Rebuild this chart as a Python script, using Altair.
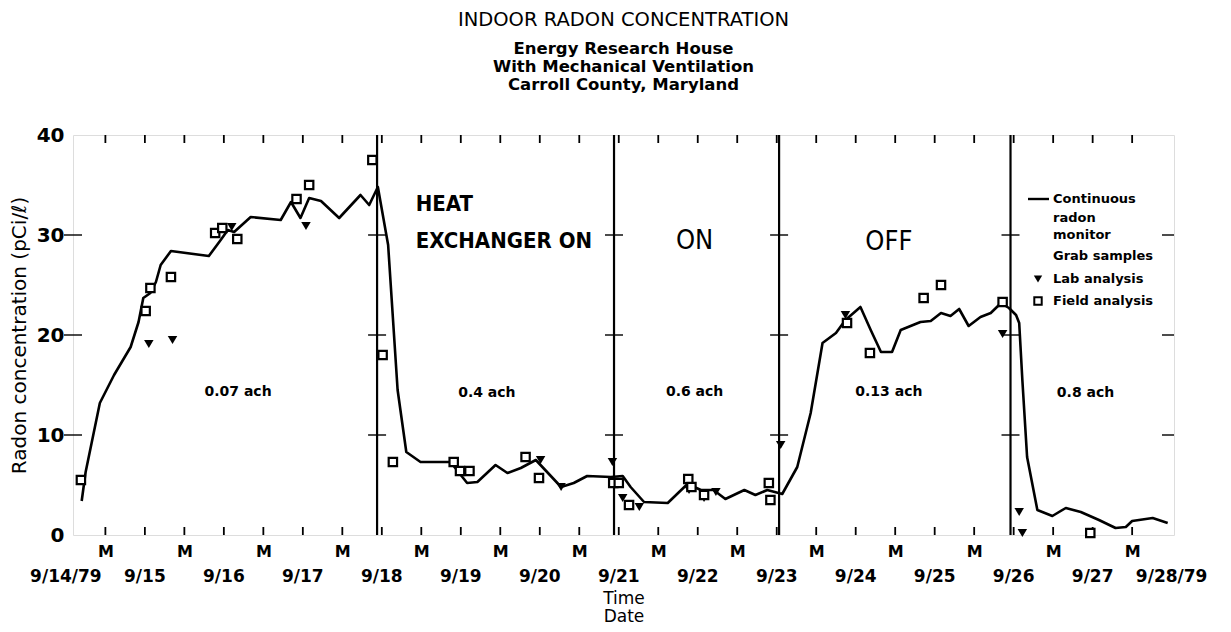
import altair as alt
import pandas as pd

# ---- data (x = days since 9/14/79 00:00, y = radon concentration pCi/L) ----
line_day = [0.20, 0.25, 0.43, 0.61, 0.82, 0.92, 0.98, 1.07, 1.14, 1.20, 1.33, 1.81,
            1.96, 2.05, 2.13, 2.34, 2.72, 2.85, 2.97, 3.08, 3.23, 3.46, 3.73, 3.84,
            3.95, 4.08, 4.20, 4.31, 4.49, 4.87, 5.08, 5.21, 5.44, 5.59, 5.76, 5.95,
            6.27, 6.43, 6.60, 6.90, 7.05, 7.15, 7.32, 7.62, 7.87, 8.04, 8.20, 8.35,
            8.59, 8.73, 8.88, 9.07, 9.26, 9.43, 9.58, 9.75, 9.87, 10.06, 10.19, 10.32,
            10.46, 10.57, 10.82, 10.95, 11.08, 11.20, 11.31, 11.43, 11.58, 11.71, 11.84,
            11.94, 12.03, 12.07, 12.11, 12.17, 12.30, 12.49, 12.66, 12.85, 13.08, 13.29,
            13.42, 13.50, 13.76, 13.95]
line_val = [3.4, 6.3, 13.2, 16.0, 18.8, 21.3, 23.7, 24.2, 25.3, 27.0, 28.4, 27.9,
            29.5, 30.5, 30.3, 31.8, 31.5, 33.3, 31.7, 33.7, 33.4, 31.7, 34.0, 33.0,
            34.8, 29.0, 14.5, 8.3, 7.3, 7.3, 5.2, 5.3, 7.0, 6.2, 6.7, 7.5,
            4.8, 5.2, 5.9, 5.8, 5.9, 4.8, 3.3, 3.2, 5.1, 4.5, 4.5, 3.6,
            4.5, 4.0, 4.5, 4.1, 6.8, 12.2, 19.2, 20.2, 21.5, 22.8, 20.5, 18.3,
            18.3, 20.5, 21.3, 21.4, 22.2, 21.9, 22.6, 20.9, 21.8, 22.2, 23.2,
            22.7, 22.0, 21.2, 15.5, 7.8, 2.5, 1.9, 2.7, 2.3, 1.5, 0.7,
            0.8, 1.4, 1.7, 1.2]

lab_day = [1.05, 1.35, 2.10, 3.04, 6.01, 6.27, 6.92, 7.05, 7.26, 7.89, 8.08, 8.23,
           9.05, 9.87, 11.86, 12.07, 12.11]
lab_val = [19.1, 19.5, 30.8, 30.9, 7.5, 4.8, 7.3, 3.7, 2.8, 4.5, 3.7, 4.3,
           9.0, 22.0, 20.1, 2.3, 0.2]

field_day = [0.19, 1.01, 1.07, 1.33, 1.89, 1.98, 2.17, 2.92, 3.08, 3.88, 4.01, 4.14,
             4.91, 4.99, 5.11, 5.82, 5.99, 6.93, 7.00, 7.13, 7.88, 7.92, 8.08, 8.90,
             8.92, 9.89, 10.18, 10.86, 11.08, 11.86, 12.97]
field_val = [5.5, 22.4, 24.7, 25.8, 30.2, 30.7, 29.6, 33.6, 35.0, 37.5, 18.0, 7.3,
             7.3, 6.4, 6.4, 7.8, 5.7, 5.2, 5.2, 3.0, 5.6, 4.8, 4.0, 5.2,
             3.5, 21.2, 18.2, 23.7, 25.0, 23.3, 0.2]

divider_day = [3.94, 6.94, 9.03, 11.96]
cross_val = [10, 20, 30]

date_day = list(range(15))
date_label = ["9/14/79", "9/15", "9/16", "9/17", "9/18", "9/19", "9/20", "9/21",
              "9/22", "9/23", "9/24", "9/25", "9/26", "9/27", "9/28/79"]
noon_day = [d + 0.5 for d in range(14)]
tick_day = [i / 2 for i in range(1, 28)]

ach_day = [2.18, 5.33, 7.96, 10.42, 12.91]
ach_val = [14.3, 14.2, 14.3, 14.3, 14.2]
ach_label = ["0.07 ach", "0.4 ach", "0.6 ach", "0.13 ach", "0.8 ach"]

heat_day = [4.43, 4.43]
heat_val = [33.1, 29.4]
heat_label = ["HEAT", "EXCHANGER ON"]
state_day = [7.96, 10.42]
state_val = [29.4, 29.3]
state_label = ["ON", "OFF"]

legend_text = ["Continuous", "radon", "monitor", "Grab samples", "Lab analysis", "Field analysis"]

X_MIN, X_MAX = 0.09, 14.03
W, H = 1101, 400
FONT = "DejaVu Sans"
NARROW = "DejaVu Sans Condensed, Liberation Sans Narrow, Roboto Condensed, DejaVu Sans"

xs = alt.Scale(domain=[X_MIN, X_MAX], nice=False, zero=False)
ys = alt.Scale(domain=[0, 40], nice=False)

line_df = pd.DataFrame({"d": line_day, "v": line_val})
lab_df = pd.DataFrame({"d": lab_day, "v": lab_val})
field_df = pd.DataFrame({"d": field_day, "v": field_val})
div_df = pd.DataFrame({"d": divider_day})
cross_df = pd.DataFrame([{"d": d, "v": v} for d in [X_MIN] + divider_day for v in cross_val])
right_df = pd.DataFrame({"d": [X_MAX] * 3, "v": cross_val})
date_df = pd.DataFrame({"d": date_day, "label": date_label})
tick_df = pd.DataFrame({"d": tick_day})
ach_df = pd.DataFrame({"d": ach_day, "v": ach_val, "label": ach_label})
heat_df = pd.DataFrame({"d": heat_day, "v": heat_val, "label": heat_label})
state_df = pd.DataFrame({"d": state_day, "v": state_val, "label": state_label})

x_axis = alt.Axis(values=noon_day, labelExpr="'M'", ticks=False, domain=False, grid=False,
                  labelFontSize=16, labelFontWeight="bold", labelFont=FONT, labelPadding=8,
                  labelColor="black", labelOverlap=False,
                  title=["Time", "Date"], titleFontSize=17, titleFontWeight="normal",
                  titleFont=FONT, titleColor="black", titlePadding=31, titleLineHeight=18)
y_axis = alt.Axis(values=[0, 10, 20, 30, 40], ticks=False, domain=False, grid=False,
                  labelFontSize=20, labelFontWeight="bold", labelFont=FONT, labelPadding=9,
                  labelColor="black",
                  title="Radon concentration (pCi/ℓ)", titleFontSize=20, titleFontWeight="normal",
                  titleFont=FONT, titleColor="black", titlePadding=7)

line = alt.Chart(line_df).mark_line(color="black", strokeWidth=2.6, strokeJoin="round").encode(
    x=alt.X("d:Q", scale=xs, axis=x_axis),
    y=alt.Y("v:Q", scale=ys, axis=y_axis),
)
lab = alt.Chart(lab_df).mark_point(shape="triangle-down", filled=True, color="black", size=90, opacity=1).encode(
    x=alt.X("d:Q", scale=xs), y=alt.Y("v:Q", scale=ys))
field = alt.Chart(field_df).mark_point(shape="square", filled=True, fill="white", stroke="black",
                                       strokeWidth=2.2, size=70, opacity=1).encode(
    x=alt.X("d:Q", scale=xs), y=alt.Y("v:Q", scale=ys))

dividers = alt.Chart(div_df).mark_rule(color="black", strokeWidth=2.2).encode(
    x=alt.X("d:Q", scale=xs), y=alt.value(0), y2=alt.value(H))
cross = alt.Chart(cross_df).mark_tick(orient="horizontal", size=18, thickness=2, color="black").encode(
    x=alt.X("d:Q", scale=xs), y=alt.Y("v:Q", scale=ys))
right_ticks = alt.Chart(right_df).mark_tick(orient="horizontal", size=12, thickness=2, color="black",
                                            xOffset=-6).encode(
    x=alt.X("d:Q", scale=xs), y=alt.Y("v:Q", scale=ys))
top_ticks = alt.Chart(tick_df).mark_rule(color="black", strokeWidth=1.8).encode(
    x=alt.X("d:Q", scale=xs), y=alt.value(0), y2=alt.value(8))
bot_ticks = alt.Chart(tick_df).mark_rule(color="black", strokeWidth=1.8).encode(
    x=alt.X("d:Q", scale=xs), y=alt.value(H - 8), y2=alt.value(H))

dates = alt.Chart(date_df).mark_text(font=FONT, fontSize=17, fontWeight="bold", color="black",
                                     baseline="middle").encode(
    x=alt.X("d:Q", scale=xs), y=alt.value(H + 42), text="label:N")

ach = alt.Chart(ach_df).mark_text(font=FONT, fontSize=14, fontWeight="bold", color="black").encode(
    x=alt.X("d:Q", scale=xs), y=alt.Y("v:Q", scale=ys), text="label:N")
heat = alt.Chart(heat_df).mark_text(font=NARROW, fontSize=22, fontWeight="bold", color="black",
                                    align="left").encode(
    x=alt.X("d:Q", scale=xs), y=alt.Y("v:Q", scale=ys), text="label:N")
state = alt.Chart(state_df).mark_text(font=NARROW, fontSize=27, color="black", align="center").encode(
    x=alt.X("d:Q", scale=xs), y=alt.Y("v:Q", scale=ys), text="label:N")

# ---- hand-made legend (top right of the last panel) ----
leg_line = alt.Chart(pd.DataFrame({"k": [0]})).mark_rule(color="black", strokeWidth=2.4).encode(
    x=alt.value(955), x2=alt.value(976), y=alt.value(64))
leg_text_df = pd.DataFrame({"t": legend_text, "yy": [64, 83, 100, 121, 144, 166]})
leg_text = alt.Chart(leg_text_df).mark_text(font=FONT, fontSize=13, fontWeight="bold", color="black",
                                            align="left", baseline="middle").encode(
    x=alt.value(980), y=alt.Y("yy:Q", scale=None), text="t:N")
leg_tri = alt.Chart(pd.DataFrame({"k": [0]})).mark_point(shape="triangle-down", filled=True, color="black",
                                                         size=70, opacity=1).encode(
    x=alt.value(965), y=alt.value(144))
leg_sq = alt.Chart(pd.DataFrame({"k": [0]})).mark_point(shape="square", filled=True, fill="white",
                                                        stroke="black", strokeWidth=2, size=55,
                                                        opacity=1).encode(
    x=alt.value(965), y=alt.value(166))

chart = alt.layer(
    line, dividers, cross, right_ticks, top_ticks, bot_ticks, lab, field, dates, ach, heat, state,
    leg_line, leg_text, leg_tri, leg_sq,
).properties(
    width=W, height=H,
    padding={"left": 1, "right": 5, "top": 2, "bottom": 0},
    title=alt.TitleParams(
        text="INDOOR RADON CONCENTRATION",
        subtitle=["Energy Research House", "With Mechanical Ventilation", "Carroll County, Maryland"],
        font=FONT, fontSize=19.5, fontWeight="normal", color="black",
        subtitleFont=FONT, subtitleFontSize=16.5, subtitleFontWeight="bold", subtitleColor="black",
        subtitleLineHeight=18, subtitlePadding=10, anchor="middle", offset=31,
    ),
).configure_view(
    stroke="black", strokeWidth=2.5
).configure(background="white")

chart.save("out.html", embed_options={"renderer": "svg", "actions": False})
